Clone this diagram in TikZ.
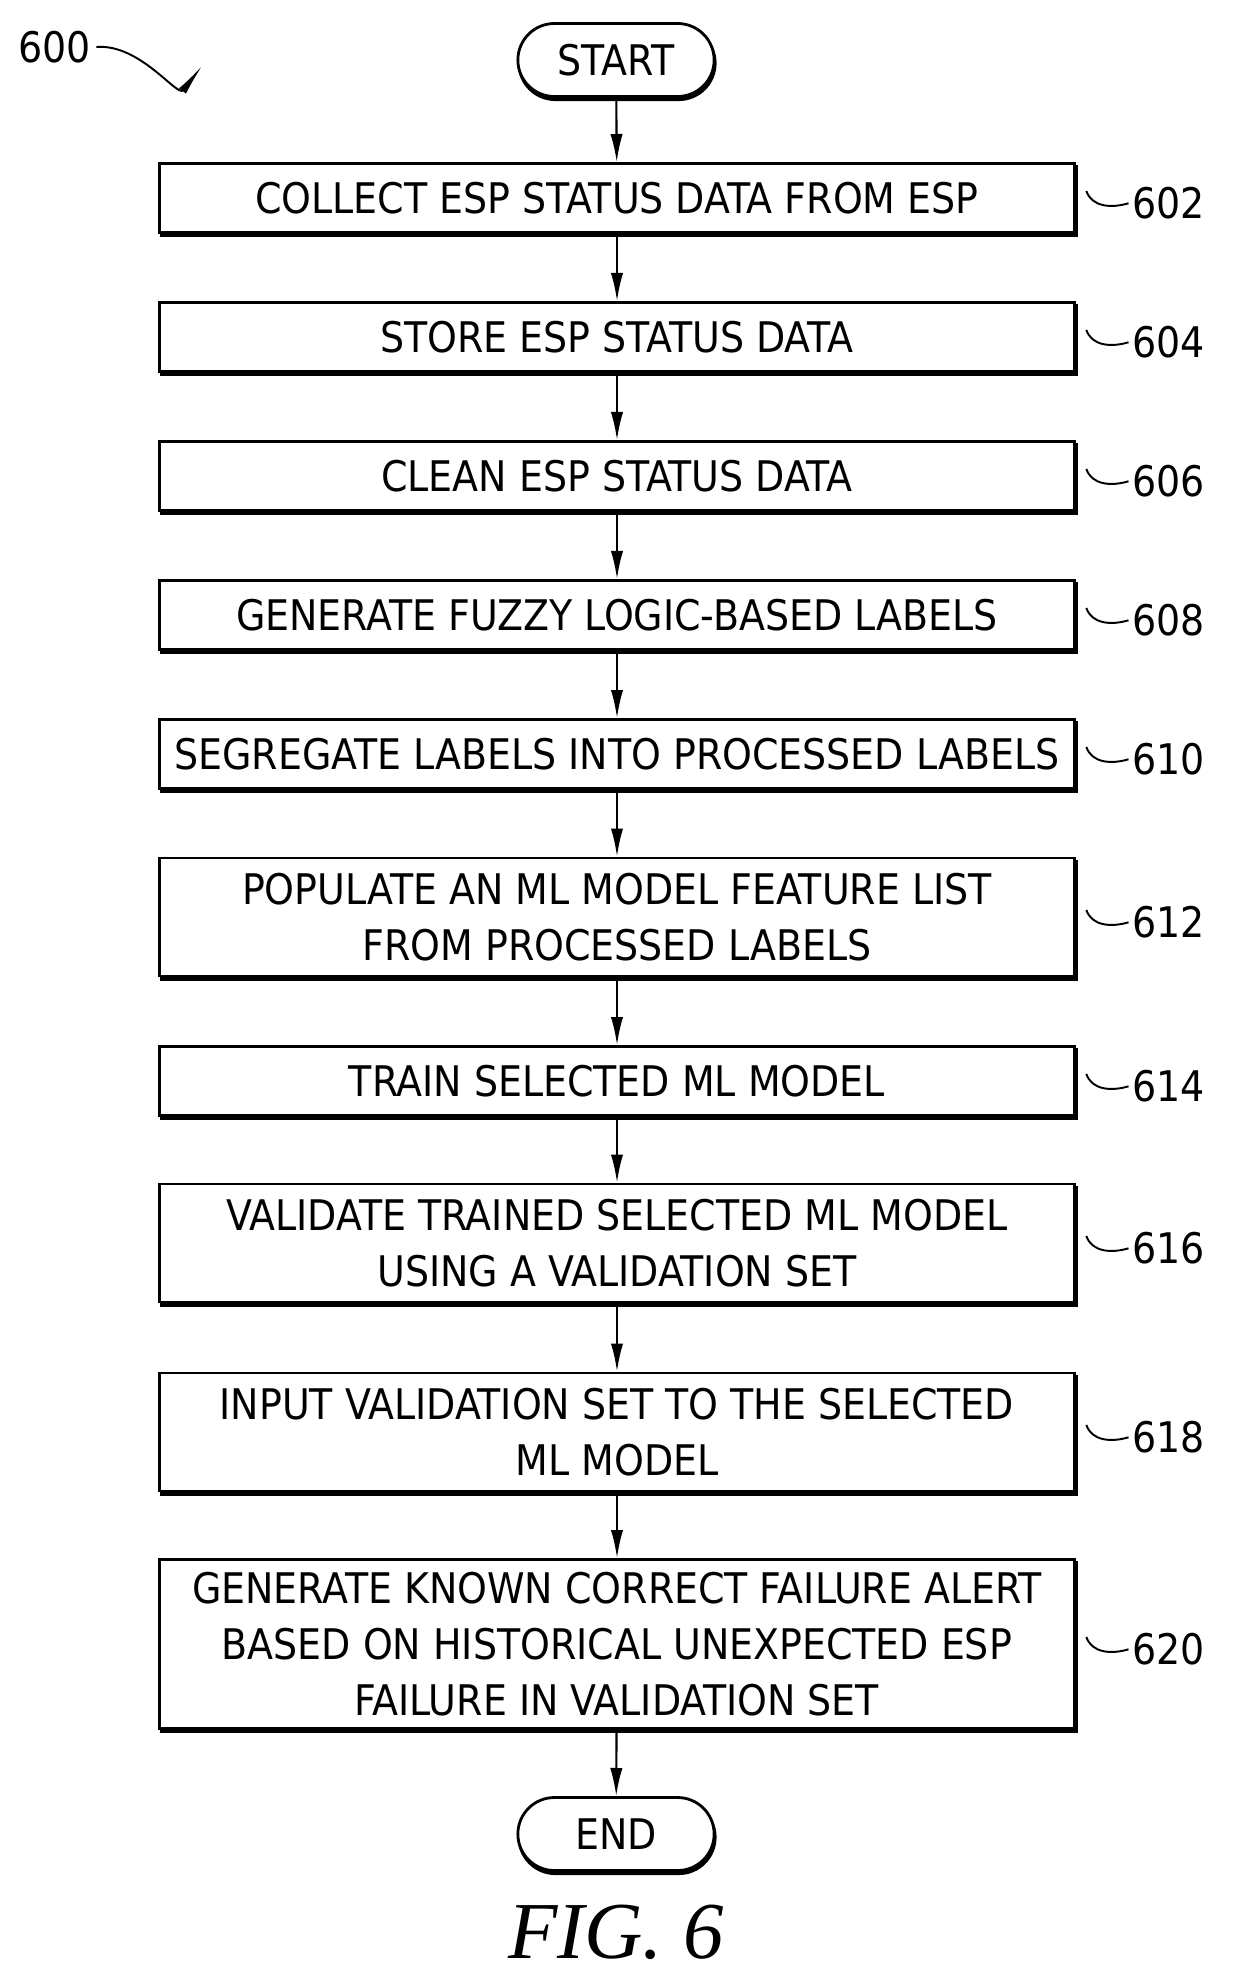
\documentclass[tikz,border=0pt]{standalone}
\usepackage{fontspec}
\setmainfont{DejaVu Sans Condensed}
\usetikzlibrary{shapes.misc,shadows,arrows.meta}
\begin{document}
\begin{tikzpicture}[x=0.02cm,y=-0.02cm,
  box/.style={draw=black,line width=1.6pt,fill=white,minimum width=18.3cm,align=center,inner sep=0pt,
    font=\fontsize{24}{32}\selectfont,copy shadow={shadow xshift=1.2pt,shadow yshift=-1.8pt,fill=black}},
  term/.style={draw=black,line width=1.6pt,fill=white,rounded rectangle,minimum width=4.16cm,minimum height=1.46cm,
    font=\fontsize{24}{30}\selectfont,copy shadow={shadow xshift=0.6pt,shadow yshift=-1.8pt,fill=black}},
  num/.style={font=\fontsize{24}{30}\selectfont,anchor=west,inner sep=0pt},
  flow/.style={line width=1.2pt,-{Latex[length=16pt,width=7pt]}},
  tag/.style={line width=1.1pt}]
\useasboundingbox (0,0) rectangle (1237,1985);

\node[term] (start) at (616,60)  {START};
\node[box,minimum height=1.38cm] (s602) at (617,198)  {COLLECT ESP STATUS DATA FROM ESP};
\node[box,minimum height=1.38cm] (s604) at (617,337)  {STORE ESP STATUS DATA};
\node[box,minimum height=1.38cm] (s606) at (617,476)  {CLEAN ESP STATUS DATA};
\node[box,minimum height=1.38cm] (s608) at (617,615)  {GENERATE FUZZY LOGIC-BASED LABELS};
\node[box,minimum height=1.38cm] (s610) at (617,754)  {SEGREGATE LABELS INTO PROCESSED LABELS};
\node[box,minimum height=2.36cm] (s612) at (617,917)  {POPULATE AN ML MODEL FEATURE LIST\\FROM PROCESSED LABELS};
\node[box,minimum height=1.38cm] (s614) at (617,1081) {TRAIN SELECTED ML MODEL};
\node[box,minimum height=2.36cm] (s616) at (617,1243) {VALIDATE TRAINED SELECTED ML MODEL\\USING A VALIDATION SET};
\node[box,minimum height=2.36cm] (s618) at (617,1432) {INPUT VALIDATION SET TO THE SELECTED\\ML MODEL};
\node[box,minimum height=3.38cm] (s620) at (617,1644) {GENERATE KNOWN CORRECT FAILURE ALERT\\BASED ON HISTORICAL UNEXPECTED ESP\\FAILURE IN VALIDATION SET};
\node[term] (end) at (616,1834) {END};

\draw[flow] (start) -- (s602);
\draw[flow] (s602) -- (s604);
\draw[flow] (s604) -- (s606);
\draw[flow] (s606) -- (s608);
\draw[flow] (s608) -- (s610);
\draw[flow] (s610) -- (s612);
\draw[flow] (s612) -- (s614);
\draw[flow] (s614) -- (s616);
\draw[flow] (s616) -- (s618);
\draw[flow] (s618) -- (s620);
\draw[flow] (s620) -- (end);

% reference numerals
\foreach \s/\n in {s602/602,s604/604,s606/606,s608/608,s610/610,s612/612,s614/614,s616/616,s618/618,s620/620}{
  \node[num] (n\n) at ([xshift=32pt,yshift=-3pt]\s.east) {\n};
  \coordinate (t\n) at ([xshift=6pt,yshift=4pt]\s.east);
  \draw[tag] (t\n) .. controls +(3pt,-9pt) and +(-10pt,-3pt) .. ([xshift=-2pt]n\n.west);
}

\node[num] (n600) at (18,47) {600};
\coordinate (a600) at (202,66);
\draw[line width=1.1pt,-{Latex[length=18pt,width=5pt]}] ([xshift=3pt]n600.east) .. controls +(25pt,2pt) and +(-14pt,-18pt) .. (a600);

\node[font=\fontsize{46}{50}\selectfont\fontspec{Liberation Serif}\itshape] (fig) at (616,1932) {FIG. 6};
\end{tikzpicture}
\end{document}
